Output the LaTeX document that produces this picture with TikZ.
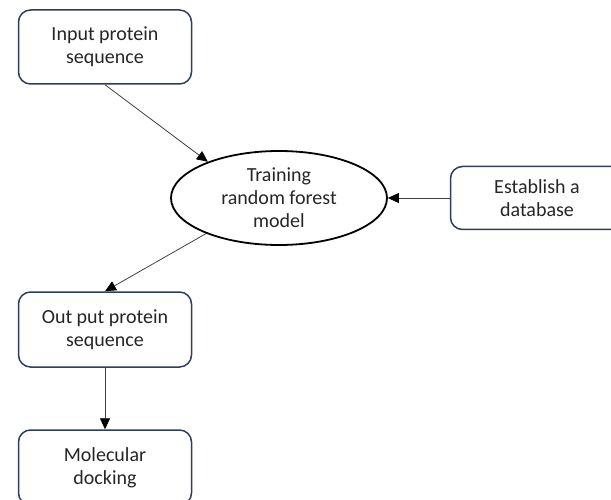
\documentclass[tikz,border=0pt]{standalone}
\usepackage{fontspec}
\setmainfont{Carlito}
\usetikzlibrary{arrows.meta,shapes.geometric}
\definecolor{boxline}{HTML}{2F3D5A}
\definecolor{arrline}{HTML}{404040}
\tikzset{
	stepbox/.style={draw=boxline, line width=1.5pt, rounded corners=12pt, fill=white,
		minimum width=173pt, align=center, font=\fontsize{20pt}{23pt}\selectfont, text=black!85},
	modelshape/.style={ellipse, draw=black, line width=1.8pt, minimum width=216pt, minimum height=94pt,
		inner sep=0pt, align=center, font=\fontsize{20pt}{23pt}\selectfont, text=black!85},
	flow/.style={draw=arrline, line width=0.8pt, -{Triangle[length=11pt,width=10pt,color=black]}}
}

\begin{document}
\begin{tikzpicture}[x=1pt, y=-1pt]
		%%%%% START %%%%%
		
		\useasboundingbox (0, 0) rectangle (611, 500);
		\clip (0, 0) rectangle (611, 500);
		
		\node[stepbox, minimum height=74pt] (inp) at (105, 47) {Input protein\\sequence};
		\node[modelshape] (train) at (279, 198) {Training\\random forest\\model};
		\node[stepbox, minimum height=63pt] (db) at (537, 198) {Establish a\\database};
		\node[stepbox, minimum height=75pt] (outp) at (105, 329.5) {Out put protein\\sequence};
		\node[stepbox, minimum height=75pt] (dock) at (105, 467.5) {Molecular\\docking};
		
		\draw[flow] (inp.south) -- (train.153);
		\draw[flow] (db.west) -- (train.east);
		\draw[flow] (train.206) -- (outp.north);
		\draw[flow] (outp.south) -- (dock.north);
		
		%%%%% END %%%%%
	\end{tikzpicture}
\end{document}
